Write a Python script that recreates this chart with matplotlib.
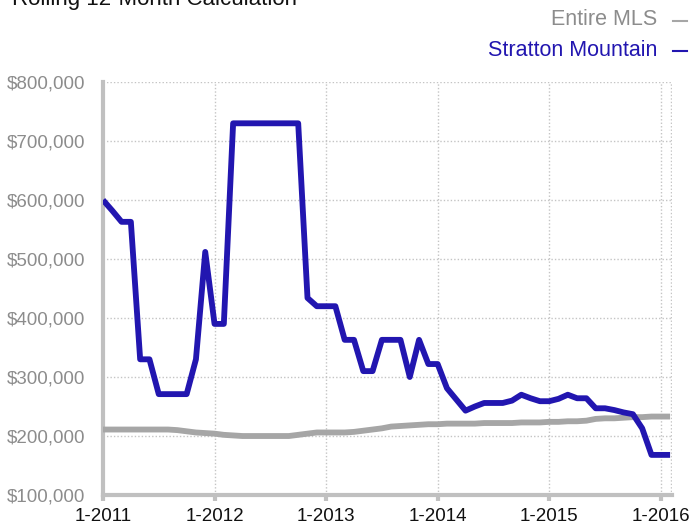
import matplotlib
matplotlib.use("Agg")
import matplotlib.pyplot as plt
from matplotlib.lines import Line2D

plt.rcParams['font.family'] = ['Liberation Sans', 'DejaVu Sans']

# Monthly values, Jan 2011 .. Feb 2016 (in thousands of dollars)
stratton = [600, 582, 563, 563, 330, 330, 271, 271, 271, 271, 330, 512,
            390, 390, 730, 730, 730, 730, 730, 730, 730, 730, 434, 420,
            420, 420, 363, 363, 310, 310, 363, 363, 363, 300, 363, 322,
            322, 281, 262, 243, 250, 256, 256, 256, 260, 270, 264, 259,
            259, 263, 270, 264, 264, 247, 247, 244, 240, 237, 213, 168,
            168, 168]
entire_mls = [211, 211, 211, 211, 211, 211, 211, 211, 210, 208, 206, 205,
              204, 202, 201, 200, 200, 200, 200, 200, 200, 202, 204, 206,
              206, 206, 206, 207, 209, 211, 213, 216, 217, 218, 219, 220,
              220, 221, 221, 221, 221, 222, 222, 222, 222, 223, 223, 223,
              224, 224, 225, 225, 226, 229, 230, 230, 231, 232, 232, 233,
              233, 233]
year_labels = ["1-2011", "1-2012", "1-2013", "1-2014", "1-2015", "1-2016"]
y_ticks = [100, 200, 300, 400, 500, 600, 700, 800]

months = list(range(len(stratton)))
fig = plt.figure(figsize=(6.92, 5.25), dpi=100)
ax = fig.add_axes([0.1488, 0.0571, 0.971 - 0.1488, 0.8438 - 0.0571])

grid_c = '#c4c4c4'
ax.plot(months, entire_mls, color='#a6a6a6', lw=4.2, solid_joinstyle='round', solid_capstyle='butt', zorder=3)
ax.plot(months, stratton, color='#2216b0', lw=4.2, solid_joinstyle='round', solid_capstyle='butt', zorder=4)

ax.set_xlim(0, 61.2)
ax.set_ylim(100, 800)
ax.set_yticks(y_ticks)
ax.set_yticklabels(['${:,}'.format(v * 1000) for v in y_ticks])
ax.set_xticks([12 * i for i in range(len(year_labels))])
ax.set_xticklabels(year_labels)

for v in y_ticks[1:]:
    ax.axhline(v, color=grid_c, lw=1, ls=(0, (1, 1.5)), zorder=1)
for i in range(1, len(year_labels)):
    ax.axvline(12 * i, color=grid_c, lw=1, ls=(0, (1, 1.5)), zorder=1)
ax.axvline(61.1, color=grid_c, lw=1, ls=(0, (1, 1.5)), zorder=1)

for s in ['top', 'right']:
    ax.spines[s].set_visible(False)
for s in ['left', 'bottom']:
    ax.spines[s].set_color('#c0c0c0')
    ax.spines[s].set_linewidth(3)

ax.tick_params(axis='y', length=0, labelsize=13.5, labelcolor='#8c8c8c', pad=13)
ax.tick_params(axis='x', length=4, width=3, color='#c0c0c0', labelsize=13.5, labelcolor='#111111', pad=5)

fig.text(0.017, 0.991, "Rolling 12-Month Calculation", fontsize=16, color='#111111', ha='left', va='baseline')

fig.text(0.950, 0.962, "Entire MLS", fontsize=15.5, color='#8c8c8c', ha='right', va='center')
fig.text(0.950, 0.903, "Stratton Mountain", fontsize=15.5, color='#2216b0', ha='right', va='center')
fig.add_artist(Line2D([0.972, 0.993], [0.960, 0.960], transform=fig.transFigure, color='#a6a6a6', lw=1.5))
fig.add_artist(Line2D([0.972, 0.993], [0.902, 0.902], transform=fig.transFigure, color='#2216b0', lw=1.5))

fig.savefig('out.png', dpi=100)
